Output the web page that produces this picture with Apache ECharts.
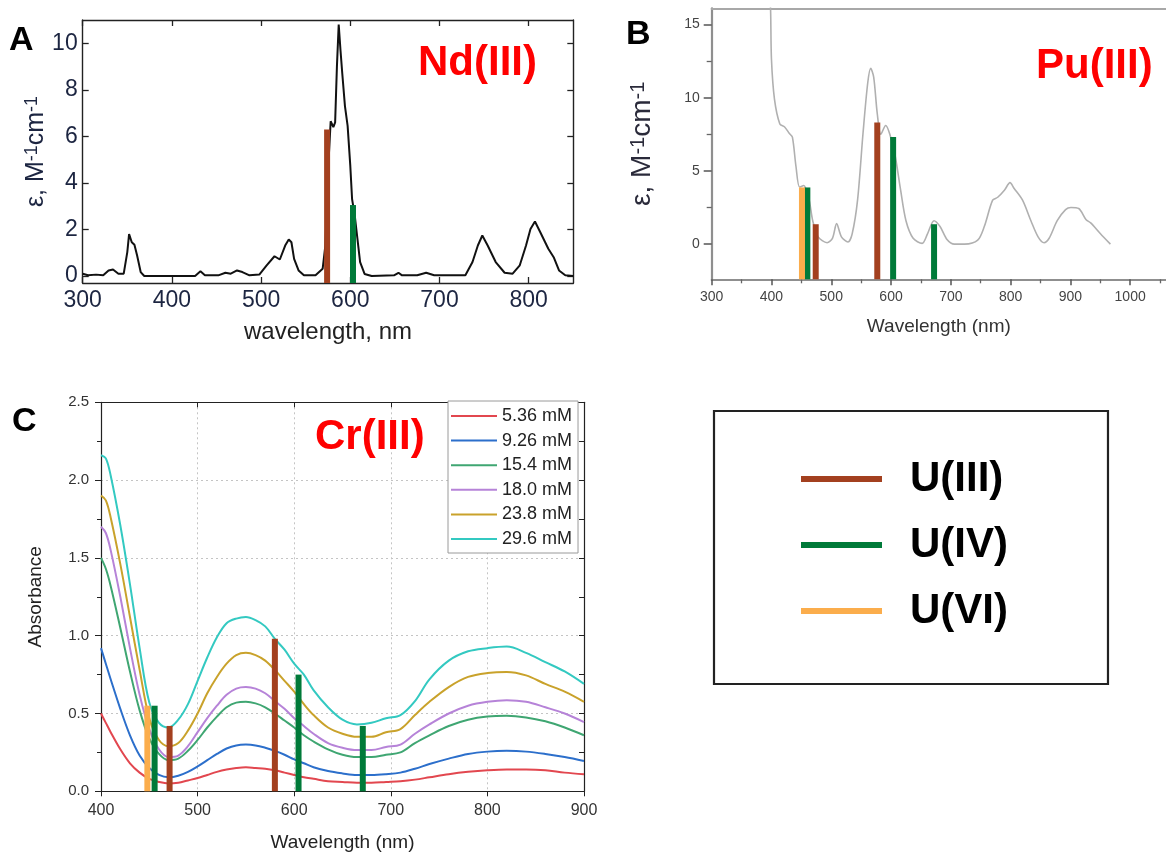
<!DOCTYPE html>
<html>
<head>
<meta charset="utf-8">
<script src="https://cdn.jsdelivr.net/npm/echarts@6/dist/echarts.min.js"></script>
<style>
  html, body { margin: 0; padding: 0; background: #fff; }
  #chart { width: 1166px; height: 854px; }
</style>
</head>
<body>
<div id="chart"></div>
<script>
// ---- Panel A: Nd(III) absorption spectrum ----
const ndWl = [300, 306, 315, 323, 329, 334, 340, 346, 350, 352, 355, 358, 361, 365, 369, 384, 401, 426, 432, 437, 452, 460, 466, 473, 479, 487, 498, 506, 515, 521, 527, 531, 534, 537, 542, 548, 561, 569, 572, 576, 578, 581, 583, 585, 587, 589, 591, 594, 597, 600, 602, 605, 608, 611, 616, 624, 649, 654, 658, 675, 685, 694, 729, 737, 743, 748, 754, 763, 773, 782, 790, 797, 802, 807, 813, 822, 828, 834, 841, 850];
const ndEps = [0.1, 0.03, 0.06, 0.03, 0.24, 0.28, 0.1, 0.1, 1.03, 1.8, 1.45, 1.34, 0.88, 0.17, 0, 0, 0, 0, 0.2, 0.03, 0.03, 0.14, 0.1, 0.24, 0.17, 0.03, 0.06, 0.45, 0.85, 0.71, 1.31, 1.57, 1.45, 0.74, 0.24, 0.03, 0.03, 0.31, 1.3, 5.2, 6.65, 6.4, 6.6, 9.0, 10.8, 9.7, 8.7, 7.3, 6.45, 4.73, 3.3, 2.6, 1.6, 0.6, 0.09, 0, 0.03, 0.14, 0.03, 0.03, 0.14, 0.03, 0.03, 0.6, 1.31, 1.74, 1.31, 0.6, 0.14, 0.1, 0.46, 1.31, 2.02, 2.34, 1.88, 1.17, 0.81, 0.24, 0.03, 0];
const ndBandWl = [574, 603];
const ndBandEps = [6.3, 3.05];
const ndBandState = ['U(III)', 'U(IV)'];

// ---- Panel B: Pu(III) absorption spectrum ----
const puWl = [396, 398.5, 400, 405, 414, 422, 430, 435, 441, 447, 454, 463, 469, 478, 493, 502, 509, 517, 528, 535, 544, 553, 561, 566, 571, 577, 583, 591, 598, 607, 616, 625, 637, 652, 661, 672, 682, 694, 706, 723, 745, 756, 770, 778.5, 790, 799, 806, 820, 834, 846, 856, 864.5, 878, 892, 901, 914, 926, 934, 950, 967];
const puEps = [18, 16, 12.6, 9.9, 8.2, 8.0, 7.55, 7.3, 5.3, 3.9, 4.0, 3.0, 1.6, 0.5, 0.1, 0.4, 1.4, 0.5, 0.15, 0.7, 3.0, 7.5, 11.0, 12.0, 11.4, 8.9, 7.5, 8.1, 7.5, 6.0, 3.7, 1.6, 0.4, 0.05, 0.7, 1.6, 1.2, 0.3, 0, 0, 0.27, 1.2, 3.0, 3.2, 3.7, 4.2, 3.8, 3.0, 1.6, 0.5, 0.1, 0.4, 1.6, 2.36, 2.5, 2.43, 1.68, 1.45, 0.73, 0];
const puBandWl = [451, 460, 474, 577, 603.5, 672];
const puBandEps = [3.87, 3.87, 1.36, 8.3, 7.31, 1.36];
const puBandState = ['U(VI)', 'U(IV)', 'U(III)', 'U(III)', 'U(IV)', 'U(IV)'];

// ---- Panel C: Cr(III) absorbance at several concentrations ----
const crWl = [400, 405, 410, 420, 430, 440, 450, 460, 470, 480, 490, 500, 510, 520, 530, 540, 550, 560, 570, 580, 590, 600, 610, 620, 635, 650, 665, 680, 695, 710, 725, 740, 760, 780, 800, 820, 840, 860, 880, 900];
const crAbs536 = [0.50, 0.44, 0.38, 0.27, 0.18, 0.12, 0.08, 0.06, 0.05, 0.055, 0.07, 0.085, 0.105, 0.125, 0.14, 0.15, 0.155, 0.15, 0.145, 0.135, 0.12, 0.105, 0.09, 0.08, 0.065, 0.06, 0.055, 0.055, 0.06, 0.065, 0.075, 0.09, 0.11, 0.125, 0.135, 0.14, 0.14, 0.135, 0.12, 0.11];
const crAbs926 = [0.92, 0.82, 0.72, 0.53, 0.36, 0.23, 0.15, 0.105, 0.09, 0.10, 0.125, 0.16, 0.20, 0.24, 0.275, 0.295, 0.30, 0.295, 0.28, 0.26, 0.235, 0.205, 0.18, 0.155, 0.13, 0.115, 0.105, 0.105, 0.11, 0.12, 0.145, 0.175, 0.21, 0.24, 0.255, 0.26, 0.255, 0.24, 0.22, 0.195];
const crAbs154 = [1.50, 1.43, 1.32, 1.05, 0.77, 0.52, 0.34, 0.24, 0.20, 0.21, 0.26, 0.33, 0.41, 0.48, 0.54, 0.57, 0.575, 0.565, 0.54, 0.50, 0.455, 0.41, 0.36, 0.32, 0.27, 0.235, 0.22, 0.22, 0.235, 0.25, 0.31, 0.36, 0.42, 0.46, 0.48, 0.485, 0.475, 0.45, 0.41, 0.36];
const crAbs180 = [1.70, 1.66, 1.55, 1.25, 0.92, 0.62, 0.40, 0.27, 0.22, 0.23, 0.29, 0.38, 0.47, 0.55, 0.62, 0.66, 0.67, 0.66, 0.63, 0.58, 0.53, 0.47, 0.42, 0.37, 0.31, 0.28, 0.265, 0.265, 0.285, 0.30, 0.37, 0.43, 0.50, 0.55, 0.575, 0.585, 0.575, 0.54, 0.50, 0.445];
const crAbs238 = [1.90, 1.87, 1.76, 1.46, 1.12, 0.78, 0.47, 0.33, 0.29, 0.31, 0.39, 0.50, 0.63, 0.735, 0.82, 0.875, 0.89, 0.875, 0.84, 0.78, 0.71, 0.64, 0.56, 0.49, 0.41, 0.37, 0.35, 0.35, 0.38, 0.40, 0.49, 0.575, 0.67, 0.735, 0.76, 0.767, 0.745, 0.69, 0.64, 0.575];
const crAbs296 = [2.16, 2.14, 2.03, 1.71, 1.33, 0.92, 0.57, 0.44, 0.41, 0.46, 0.56, 0.71, 0.86, 0.99, 1.08, 1.11, 1.12, 1.10, 1.06, 0.98, 0.91, 0.82, 0.75, 0.65, 0.54, 0.46, 0.43, 0.44, 0.47, 0.49, 0.58, 0.72, 0.84, 0.90, 0.92, 0.93, 0.89, 0.83, 0.77, 0.69];
const crNames = ['5.36 mM', '9.26 mM', '15.4 mM', '18.0 mM', '23.8 mM', '29.6 mM'];
const crBandWl = [448, 455.5, 471, 580, 604.5, 671];
const crBandAbs = [0.55, 0.55, 0.42, 0.98, 0.75, 0.42];
const crBandState = ['U(VI)', 'U(IV)', 'U(III)', 'U(III)', 'U(IV)', 'U(IV)'];

// ---- Tick values ----
const ndXTicks = [300, 400, 500, 600, 700, 800];
const ndYTicks = [0, 2, 4, 6, 8, 10];
const puXTicks = [300, 400, 500, 600, 700, 800, 900, 1000];
const puXMinor = [350, 450, 550, 650, 750, 850, 950, 1050];
const puYTicks = [0, 5, 10, 15];
const puYMinor = [2.5, 7.5, 12.5];

const uStates = ['U(III)', 'U(IV)', 'U(VI)'];

const FONT = 'Liberation Sans, Arial, Helvetica, sans-serif';
const uColor = { 'U(III)': '#a3401f', 'U(IV)': '#007a39', 'U(VI)': '#fbad4c' };
const crColors = ['#e2474f', '#2c6fcb', '#3fa672', '#b683d8', '#c9a22b', '#33c9c1'];

function pairs(xs, ys) { return xs.map((x, i) => [x, ys[i]]); }

// vertical band markers drawn from the axis floor up to their value
function bandSeries(state, wl, val, states, xi, yi, floor) {
  const data = [];
  wl.forEach((w, i) => { if (states[i] === state) data.push([w, val[i]]); });
  return {
    type: 'custom', name: state, xAxisIndex: xi, yAxisIndex: yi, z: 6,
    itemStyle: { color: uColor[state] },
    encode: { x: 0, y: 1 },
    data,
    renderItem: (params, api) => {
      const top = api.coord([api.value(0), api.value(1)]);
      const bot = api.coord([api.value(0), floor]);
      return {
        type: 'rect',
        shape: { x: top[0] - 3, y: top[1], width: 6, height: bot[1] - top[1] },
        style: { fill: api.visual('color') }
      };
    }
  };
}

const epsName = 'ε, M{s|-1}cm{s|-1}';

const chart = echarts.init(document.getElementById('chart'), null, { renderer: 'canvas' });

const series = [
  { type: 'line', xAxisIndex: 0, yAxisIndex: 0, data: pairs(ndWl, ndEps), symbol: 'none',
    lineStyle: { color: '#111', width: 2 }, itemStyle: { color: '#111' }, z: 3 },
  { type: 'line', xAxisIndex: 2, yAxisIndex: 2, data: pairs(puWl, puEps), symbol: 'none', smooth: 0.3,
    lineStyle: { color: '#b0b0b0', width: 1.6 }, itemStyle: { color: '#b0b0b0' }, z: 3 }
];
const crAll = [crAbs536, crAbs926, crAbs154, crAbs180, crAbs238, crAbs296];
crAll.forEach((vals, i) => {
  series.push({ type: 'line', name: crNames[i], xAxisIndex: 5, yAxisIndex: 4, data: pairs(crWl, vals),
    symbol: 'none', smooth: 0.35, lineStyle: { color: crColors[i], width: 2 }, itemStyle: { color: crColors[i] }, z: 3 });
});
uStates.forEach(s => {
  series.push(bandSeries(s, ndBandWl, ndBandEps, ndBandState, 0, 0, -0.3));
  series.push(bandSeries(s, puBandWl, puBandEps, puBandState, 2, 2, -2.4));
  series.push(bandSeries(s, crBandWl, crBandAbs, crBandState, 5, 4, 0));
});

const ndLabel = { fontFamily: FONT, fontSize: 23, color: '#1c2541' };
const puLabel = { fontFamily: FONT, fontSize: 14, color: '#444' };
const crLabel = { fontFamily: FONT, fontSize: 16, color: '#333' };

const option = {
  animation: false,
  backgroundColor: '#fff',
  grid: [
    { left: 82.7, top: 20, width: 490.6, height: 263 },
    { left: 711.7, top: 8.3, width: 456.8, height: 271 },
    { left: 101, top: 402.3, width: 483, height: 389 }
  ],
  xAxis: [
    // A bottom
    { type: 'value', gridIndex: 0, min: 300, max: 850, position: 'bottom',
      name: 'wavelength, nm', nameLocation: 'middle', nameGap: 37,
      nameTextStyle: { fontFamily: FONT, fontSize: 24, color: '#222' },
      axisLine: { onZero: false, lineStyle: { color: '#222', width: 1.4 } },
      axisTick: { inside: true, length: 6, customValues: ndXTicks, lineStyle: { color: '#222', width: 1.3 } },
      axisLabel: { customValues: ndXTicks, margin: 6, ...ndLabel },
      splitLine: { show: false } },
    // A top
    { type: 'value', gridIndex: 0, min: 300, max: 850, position: 'top',
      axisLine: { onZero: false, lineStyle: { color: '#222', width: 1.4 } },
      axisTick: { inside: true, length: 6, customValues: ndXTicks, lineStyle: { color: '#222', width: 1.3 } },
      axisLabel: { show: false }, splitLine: { show: false } },
    // B bottom
    { type: 'value', gridIndex: 1, min: 300, max: 1060, position: 'bottom',
      name: 'Wavelength (nm)', nameLocation: 'middle', nameGap: 38,
      nameTextStyle: { fontFamily: FONT, fontSize: 19, color: '#333' },
      axisLine: { onZero: false, lineStyle: { color: '#8f8f8f', width: 2.2 } },
      axisTick: { length: 6, customValues: puXTicks, lineStyle: { color: '#555', width: 1.5 } },
      axisLabel: { customValues: puXTicks, margin: 11, formatter: v => String(v), ...puLabel },
      splitLine: { show: false } },
    // B bottom minor ticks
    { type: 'value', gridIndex: 1, min: 300, max: 1060, position: 'bottom',
      axisLine: { show: false, onZero: false },
      axisTick: { length: 4, customValues: puXMinor, lineStyle: { color: '#666', width: 1.3 } },
      axisLabel: { show: false }, splitLine: { show: false } },
    // B top frame
    { type: 'value', gridIndex: 1, min: 300, max: 1060, position: 'top',
      axisLine: { onZero: false, lineStyle: { color: '#a8a8a8', width: 2 } },
      axisTick: { show: false }, axisLabel: { show: false }, splitLine: { show: false } },
    // C bottom
    { type: 'value', gridIndex: 2, min: 400, max: 900, interval: 100, position: 'bottom',
      name: 'Wavelength (nm)', nameLocation: 'middle', nameGap: 42,
      nameTextStyle: { fontFamily: FONT, fontSize: 19, color: '#222' },
      axisLine: { onZero: false, lineStyle: { color: '#222', width: 1.2 } },
      axisTick: { length: 5, lineStyle: { color: '#222' } },
      axisLabel: { margin: 11, ...crLabel },
      splitLine: { show: true, lineStyle: { color: '#c4c4c4', type: [2, 3], width: 1 } } },
    // C top
    { type: 'value', gridIndex: 2, min: 400, max: 900, interval: 100, position: 'top',
      axisLine: { onZero: false, lineStyle: { color: '#222', width: 1.2 } },
      axisTick: { inside: true, length: 5, lineStyle: { color: '#222' } },
      axisLabel: { show: false }, splitLine: { show: false } }
  ],
  yAxis: [
    // A left
    { type: 'value', gridIndex: 0, min: -0.3, max: 11, position: 'left',
      name: epsName, nameLocation: 'middle', nameGap: 34, nameRotate: 90,
      nameTextStyle: { fontFamily: FONT, fontSize: 25, color: '#1c2541',
        rich: { s: { fontFamily: FONT, fontSize: 18, color: '#1c2541', verticalAlign: 'top' } } },
      axisLine: { onZero: false, lineStyle: { color: '#222', width: 1.4 } },
      axisTick: { inside: true, length: 6, customValues: ndYTicks, lineStyle: { color: '#222', width: 1.3 } },
      axisLabel: { customValues: ndYTicks, margin: 5, ...ndLabel },
      splitLine: { show: false } },
    // A right
    { type: 'value', gridIndex: 0, min: -0.3, max: 11, position: 'right',
      axisLine: { onZero: false, lineStyle: { color: '#222', width: 1.4 } },
      axisTick: { inside: true, length: 6, customValues: ndYTicks, lineStyle: { color: '#222', width: 1.3 } },
      axisLabel: { show: false }, splitLine: { show: false } },
    // B left
    { type: 'value', gridIndex: 1, min: -2.4, max: 16.1, position: 'left',
      name: epsName, nameLocation: 'middle', nameGap: 55, nameRotate: 90,
      nameTextStyle: { fontFamily: FONT, fontSize: 28, color: '#2a2a3a',
        rich: { s: { fontFamily: FONT, fontSize: 20, color: '#2a2a3a', verticalAlign: 'top' } } },
      axisLine: { onZero: false, lineStyle: { color: '#8f8f8f', width: 2.2 } },
      axisTick: { length: 8, customValues: puYTicks, lineStyle: { color: '#555', width: 1.5 } },
      axisLabel: { customValues: puYTicks, margin: 12, ...puLabel },
      splitLine: { show: false } },
    // B left minor ticks
    { type: 'value', gridIndex: 1, min: -2.4, max: 16.1, position: 'left',
      axisLine: { show: false, onZero: false },
      axisTick: { length: 5, customValues: puYMinor, lineStyle: { color: '#666', width: 1.3 } },
      axisLabel: { show: false }, splitLine: { show: false } },
    // C left
    { type: 'value', gridIndex: 2, min: 0, max: 2.5, interval: 0.5, position: 'left',
      name: 'Absorbance', nameLocation: 'middle', nameGap: 56, nameRotate: 90,
      nameTextStyle: { fontFamily: FONT, fontSize: 19, color: '#222' },
      axisLine: { onZero: false, lineStyle: { color: '#222', width: 1.2 } },
      axisTick: { length: 6, lineStyle: { color: '#222' } },
      minorTick: { show: true, splitNumber: 2, length: 4, lineStyle: { color: '#222' } },
      axisLabel: { margin: 12, formatter: v => v.toFixed(1), ...crLabel, fontSize: 15 },
      splitLine: { show: true, lineStyle: { color: '#c4c4c4', type: [2, 3], width: 1 } } },
    // C right
    { type: 'value', gridIndex: 2, min: 0, max: 2.5, interval: 0.5, position: 'right',
      axisLine: { onZero: false, lineStyle: { color: '#222', width: 1.2 } },
      axisTick: { inside: true, length: 5, lineStyle: { color: '#222' } },
      minorTick: { show: true, splitNumber: 2, length: 5, lineStyle: { color: '#222' } },
      axisLabel: { show: false }, splitLine: { show: false } }
  ],
  legend: [
    { data: crNames, orient: 'vertical', left: 448, top: 401, selectedMode: false,
      icon: 'rect', backgroundColor: '#fff', borderColor: '#9a9a9a', borderWidth: 1,
      padding: [6, 6, 5, 3], itemWidth: 46, itemHeight: 2, itemGap: 6.6, z: 10,
      textStyle: { fontFamily: FONT, fontSize: 18, color: '#222' } },
    { data: uStates, orient: 'vertical', left: 714, top: 411, selectedMode: false,
      icon: 'rect', itemWidth: 81, itemHeight: 6, itemGap: 22,
      borderColor: '#222', borderWidth: 2.2, padding: [46, 100, 51, 87],
      textStyle: { fontFamily: FONT, fontSize: 42, fontWeight: 'bold', color: '#000',
        lineHeight: 44, padding: [0, 0, 0, 23] } }
  ],
  graphic: [
    { type: 'text', x: 9, y: 41, style: { text: 'A', font: 'bold 34px ' + FONT, fill: '#000', verticalAlign: 'middle' } },
    { type: 'text', x: 626, y: 35, style: { text: 'B', font: 'bold 34px ' + FONT, fill: '#000', verticalAlign: 'middle' } },
    { type: 'text', x: 12, y: 422, style: { text: 'C', font: 'bold 34px ' + FONT, fill: '#000', verticalAlign: 'middle' } },
    { type: 'text', x: 418, y: 63, z: 20, style: { text: 'Nd(III)', font: 'bold 42px ' + FONT, fill: '#ff0000', verticalAlign: 'middle' } },
    { type: 'text', x: 1036, y: 66, z: 20, style: { text: 'Pu(III)', font: 'bold 42px ' + FONT, fill: '#ff0000', verticalAlign: 'middle' } },
    { type: 'text', x: 315, y: 437, z: 20, style: { text: 'Cr(III)', font: 'bold 42px ' + FONT, fill: '#ff0000', verticalAlign: 'middle' } }
  ],
  series
};
chart.setOption(option);
</script>
</body>
</html>
